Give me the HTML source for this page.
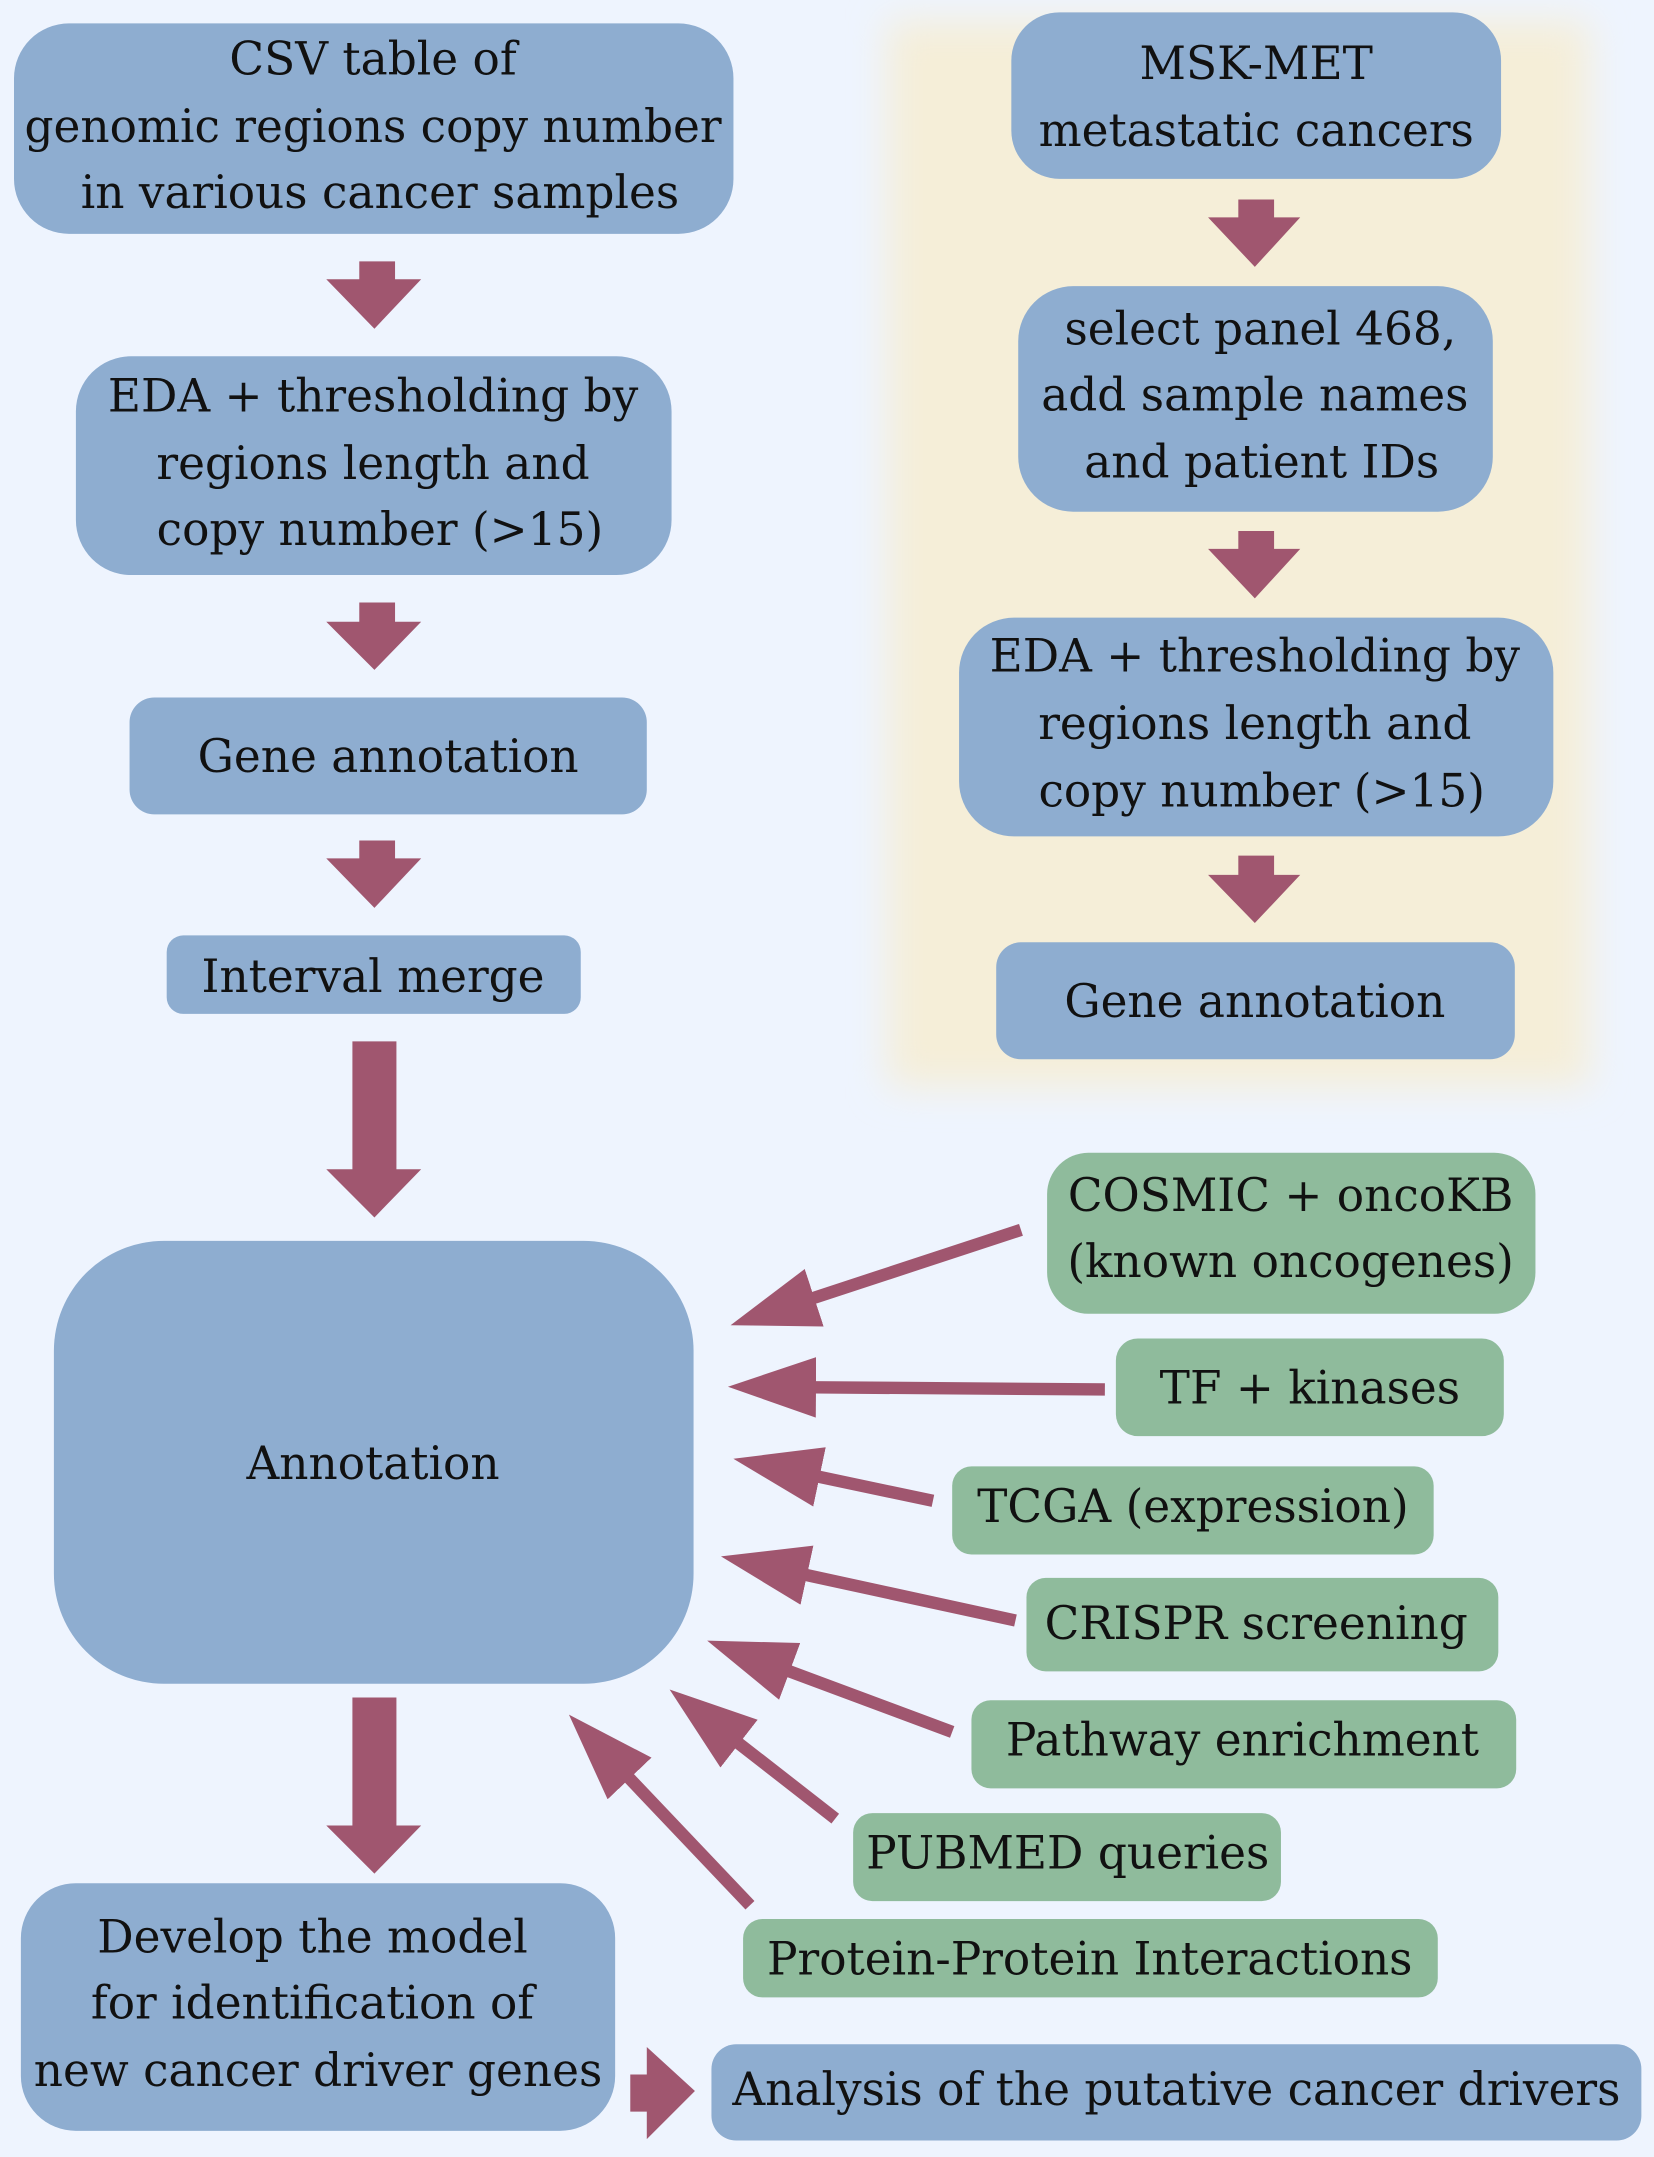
<!DOCTYPE html>
<html><head><meta charset="utf-8"><style>
html,body{margin:0;padding:0;background:#eef4fe;}
svg{display:block}
text{font-family:"DejaVu Serif","Liberation Serif",serif;font-size:33px;fill:#111;text-anchor:middle;dominant-baseline:central}
</style></head><body>
<svg width="1654" height="2157" viewBox="0 0 1202 1568" xmlns="http://www.w3.org/2000/svg">
<defs>
<filter id="bl" x="-20%" y="-20%" width="140%" height="140%"><feGaussianBlur stdDeviation="14"/></filter>
<marker id="ah" markerUnits="userSpaceOnUse" markerWidth="70" markerHeight="50" refX="2" refY="22" orient="auto">
<path d="M0,0 L64,22 L0,44 Z" fill="#a0566f"/></marker>
</defs>
<rect width="1202" height="1568" fill="#eef4fe"/>
<rect x="645" y="15" width="510" height="775" fill="#f5eed8" filter="url(#bl)"/>
<g fill="#8eadd0">
<rect x="10" y="17" width="523" height="153" rx="40"/>
<rect x="55" y="259" width="433" height="159" rx="40"/>
<rect x="94" y="507" width="376" height="85" rx="18"/>
<rect x="121" y="680" width="301" height="57" rx="12"/>
<rect x="39" y="902" width="465" height="322" rx="80"/>
<rect x="15" y="1369" width="432" height="180" rx="40"/>
<rect x="517" y="1486" width="676" height="70" rx="18"/>
<rect x="735" y="9" width="356" height="121" rx="35"/>
<rect x="740" y="208" width="345" height="164" rx="40"/>
<rect x="697" y="449" width="432" height="159" rx="40"/>
<rect x="724" y="685" width="377" height="85" rx="18"/>
</g>
<g fill="#8fbb9c">
<rect x="761" y="838" width="355" height="117" rx="30"/>
<rect x="811" y="973" width="282" height="71" rx="16"/>
<rect x="692" y="1066" width="350" height="64" rx="14"/>
<rect x="746" y="1147" width="343" height="68" rx="14"/>
<rect x="706" y="1236" width="396" height="64" rx="14"/>
<rect x="620" y="1318" width="311" height="64" rx="14"/>
<rect x="540" y="1395" width="505" height="57" rx="14"/>
</g>
<g fill="#a0566f">
<path d="M261,190h26v13h19l-34,36l-35,-36h24z"/>
<path d="M261,438h26v14h19l-34,35l-35,-35h24z"/>
<path d="M261,611h26v13h19l-34,36l-35,-36h24z"/>
<path d="M256,757h32v93h18l-34,35l-35,-35h19z"/>
<path d="M256,1234h32v93h18l-34,35l-35,-35h19z"/>
<path d="M900,145h26v13h19l-33,36l-34,-36h22z"/>
<path d="M900,386h26v13h19l-33,36l-34,-36h22z"/>
<path d="M900,622h26v14h19l-33,35l-34,-35h22z"/>
<path d="M458,1508h12v-20l35,32l-35,35v-20h-12z"/>
</g>
<g stroke="#a0566f" stroke-width="9" marker-end="url(#ah)">
<line x1="742" y1="894" x2="589.8" y2="944"/>
<line x1="803" y1="1010" x2="591" y2="1008.5"/>
<line x1="678" y1="1091" x2="593.6" y2="1073.2"/>
<line x1="738" y1="1178" x2="584.5" y2="1144.6"/>
<line x1="692" y1="1259" x2="572" y2="1214.3"/>
<line x1="607" y1="1322" x2="535.5" y2="1266.3"/>
<line x1="545" y1="1385" x2="456.1" y2="1291.4"/>
</g>
<text x="271" y="43">CSV table of</text>
<text x="271" y="92">genomic regions copy number</text>
<text x="276" y="140">in various cancer samples</text>
<text x="271" y="288">EDA + thresholding by</text>
<text x="271" y="337">regions length and</text>
<text x="276" y="385">copy number (&gt;15)</text>
<text x="282" y="550">Gene annotation</text>
<text x="271" y="710">Interval merge</text>
<text x="271" y="1064">Annotation</text>
<text x="227" y="1408">Develop the model</text>
<text x="227" y="1456">for identification of</text>
<text x="231" y="1505">new cancer driver genes</text>
<text x="855" y="1519">Analysis of the putative cancer drivers</text>
<text x="913" y="46">MSK-MET</text>
<text x="913" y="95">metastatic cancers</text>
<text x="916" y="239">select panel 468,</text>
<text x="912" y="287">add sample names</text>
<text x="917" y="336">and patient IDs</text>
<text x="912" y="477">EDA + thresholding by</text>
<text x="912" y="526">regions length and</text>
<text x="917" y="575">copy number (&gt;15)</text>
<text x="912" y="728">Gene annotation</text>
<text x="938" y="869">COSMIC + oncoKB</text>
<text x="938" y="917">(known oncogenes)</text>
<text x="952" y="1009">TF +  kinases</text>
<text x="867" y="1095">TCGA (expression)</text>
<text x="913" y="1180">CRISPR screening</text>
<text x="903" y="1265">Pathway enrichment</text>
<text x="776" y="1347">PUBMED queries</text>
<text x="792" y="1424">Protein-Protein Interactions</text>
</svg>
</body></html>
